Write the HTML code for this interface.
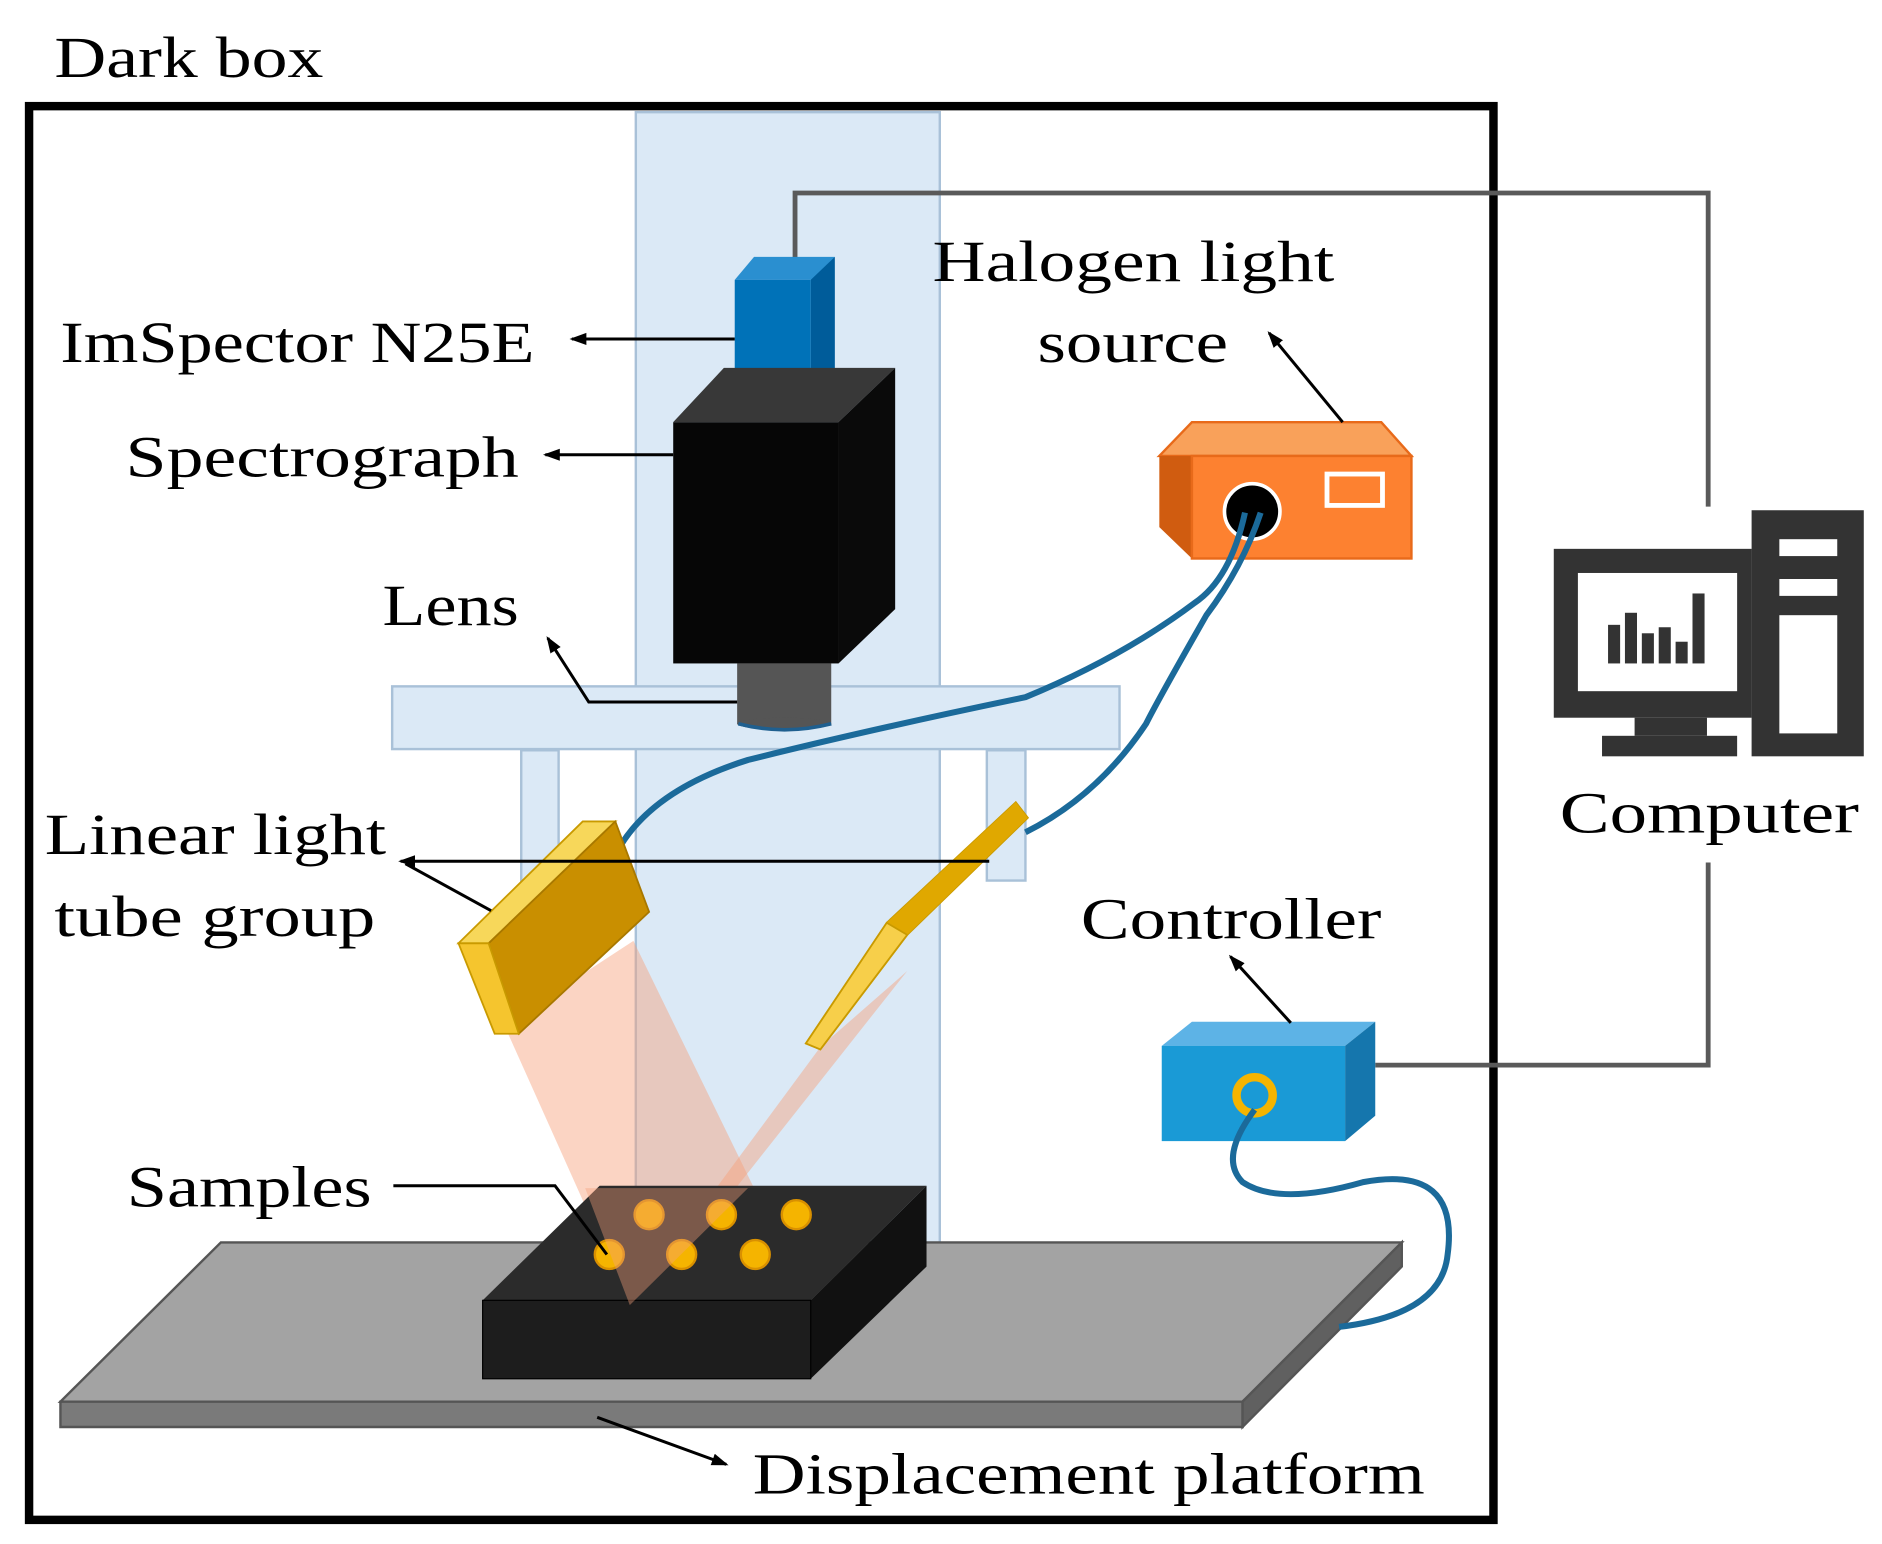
<!DOCTYPE html>
<html><head><meta charset="utf-8"><style>
html,body{margin:0;padding:0;background:#fff;}
svg{display:block;}
text{font-family:"Liberation Serif",serif;font-size:48px;fill:#000;}
</style></head><body>
<svg width="1882" height="1544" viewBox="0 0 1560 1280" xmlns="http://www.w3.org/2000/svg">
<defs>
<marker id="ar" markerWidth="14" markerHeight="12" refX="12" refY="6" orient="auto" markerUnits="userSpaceOnUse" viewBox="0 0 14 12">
<path d="M0,1 L14,6 L0,11 Z" fill="#000"/></marker>
</defs>
<rect width="1560" height="1280" fill="#fff"/>
<text x="45" y="64" font-size="44" textLength="223" lengthAdjust="spacingAndGlyphs">Dark box</text>
<!-- column -->
<rect x="527" y="93" width="252" height="940" fill="#dbe9f6" stroke="#a9c1d8" stroke-width="2"/>
<!-- shelf legs -->
<rect x="432" y="622" width="31" height="108" fill="#dbe9f6" stroke="#a9c1d8" stroke-width="2"/>
<rect x="818" y="622" width="32" height="108" fill="#dbe9f6" stroke="#a9c1d8" stroke-width="2"/>
<rect x="325" y="569" width="603" height="52" fill="#dbe9f6" stroke="#a9c1d8" stroke-width="2"/>
<!-- dark box -->
<rect x="24" y="88" width="1214" height="1172" fill="none" stroke="#000" stroke-width="7"/>
<!-- computer cable -->
<polyline points="659,215 659,160 1416,160 1416,420" fill="none" stroke="#5a5a5a" stroke-width="4"/>
<polyline points="1416,715 1416,883 1140,883" fill="none" stroke="#5a5a5a" stroke-width="4"/>
<!-- camera -->
<polygon points="609,232 625,213 692,213 676,232" fill="#2a8fd0"/>
<polygon points="672,232 692,213 692,310 672,328" fill="#005c9a"/>
<rect x="609" y="232" width="63" height="96" fill="#0072b8"/>
<!-- spectrograph -->
<polygon points="558,350 600,305 742,305 695,350" fill="#383838"/>
<polygon points="695,350 742,305 742,505 695,550" fill="#0a0a0a"/>
<rect x="558" y="350" width="137" height="200" fill="#060606"/>
<!-- lens -->
<rect x="611" y="550" width="78" height="50" fill="#555"/>
<ellipse cx="650" cy="600" rx="39" ry="5" fill="#555"/>
<path d="M612,600 Q650,610 689,600" stroke="#1f5f8f" stroke-width="3" fill="none"/>
<!-- arrows left -->
<line x1="609" y1="281" x2="474" y2="281" stroke="#000" stroke-width="2.5" marker-end="url(#ar)"/>
<line x1="558" y1="377" x2="452" y2="377" stroke="#000" stroke-width="2.5" marker-end="url(#ar)"/>
<polyline points="611,582 488,582 454,529" fill="none" stroke="#000" stroke-width="2.5" marker-end="url(#ar)"/>
<text x="50" y="300" textLength="393" lengthAdjust="spacingAndGlyphs">ImSpector N25E</text>
<text x="104" y="395" textLength="326" lengthAdjust="spacingAndGlyphs">Spectrograph</text>
<text x="317" y="518" textLength="113" lengthAdjust="spacingAndGlyphs">Lens</text>
<!-- beams -->
<polygon points="418,850 525,780 625,985 522,1082" fill="#f6a07a" opacity="0.45"/>
<polygon points="680,868 752,805 598,1000 522,1082" fill="#f6a07a" opacity="0.45"/>
<!-- halogen -->
<polygon points="961,378 988,350 1145,350 1170,378" fill="#f9a15a" stroke="#e86a1a" stroke-width="2"/>
<polygon points="961,378 988,378 988,463 961,437" fill="#d05c10"/>
<rect x="988" y="378" width="182" height="85" fill="#fd8130" stroke="#e86a1a" stroke-width="2"/>
<rect x="1100" y="393" width="46" height="26" fill="none" stroke="#fff" stroke-width="4"/>
<circle cx="1038" cy="424" r="23" fill="#000" stroke="#fff" stroke-width="3"/>
<text x="773" y="233" textLength="333" lengthAdjust="spacingAndGlyphs">Halogen light</text>
<text x="860" y="300" textLength="158" lengthAdjust="spacingAndGlyphs">source</text>
<line x1="1113" y1="350" x2="1052" y2="276" stroke="#000" stroke-width="2.5" marker-end="url(#ar)"/>
<!-- fibers -->
<path d="M1032,425 Q1020,480 990,500 Q930,545 850,578 Q720,605 620,630 Q540,655 512,705" fill="none" stroke="#1b6a9a" stroke-width="5"/>
<path d="M1045,425 Q1030,470 1000,510 Q960,580 950,600 Q910,660 850,690" fill="none" stroke="#1b6a9a" stroke-width="5"/>
<!-- left tube -->
<polygon points="380,782 483,681 510,681 405,782" fill="#f7d75a" stroke="#c99a00" stroke-width="1.5"/>
<polygon points="405,782 510,681 538,756 430,857" fill="#c98f00" stroke="#a87800" stroke-width="1.5"/>
<polygon points="380,782 405,782 430,857 410,857" fill="#f5c52e" stroke="#c99a00" stroke-width="1.5"/>
<!-- right tube -->
<polygon points="668,865 735,765 842,665 852,678 752,775 680,870" fill="#f5c52e" stroke="#c99a00" stroke-width="1.5"/>
<polygon points="735,765 842,665 852,678 752,775" fill="#e0a800"/>
<polygon points="668,865 735,765 752,775 680,870" fill="#f7cf4a" stroke="#c99a00" stroke-width="1.5"/>
<text x="37" y="708" textLength="283" lengthAdjust="spacingAndGlyphs">Linear light</text>
<text x="45" y="776" textLength="266" lengthAdjust="spacingAndGlyphs">tube group</text>
<line x1="820" y1="714" x2="332" y2="714" stroke="#000" stroke-width="2.5" marker-end="url(#ar)"/>
<line x1="407" y1="755" x2="336" y2="716" stroke="#000" stroke-width="2.5"/>
<!-- platform -->
<polygon points="50,1162 1030,1162 1162,1030 183,1030" fill="#a3a3a3" stroke="#555" stroke-width="2"/>
<polygon points="50,1162 1030,1162 1030,1183 50,1183" fill="#7a7a7a" stroke="#555" stroke-width="2"/>
<polygon points="1030,1162 1162,1030 1162,1050 1030,1183" fill="#606060" stroke="#555" stroke-width="2"/>
<!-- sample box -->
<polygon points="400,1078 672,1078 768,983 497,983" fill="#2b2b2b"/>
<polygon points="672,1078 768,983 768,1050 672,1143" fill="#111"/>
<rect x="400" y="1078" width="272" height="65" fill="#1d1d1d" stroke="#000"/>
<g fill="#f5b400" stroke="#d99000" stroke-width="2">
<circle cx="538" cy="1007" r="12"/><circle cx="598" cy="1007" r="12"/><circle cx="660" cy="1007" r="12"/>
<circle cx="505" cy="1040" r="12"/><circle cx="565" cy="1040" r="12"/><circle cx="626" cy="1040" r="12"/>
</g>
<polygon points="485,985 620,985 522,1082" fill="#f6a07a" opacity="0.4"/>
<text x="105" y="1000" textLength="203" lengthAdjust="spacingAndGlyphs">Samples</text>
<polyline points="326,983 460,983 503,1040" fill="none" stroke="#000" stroke-width="2.5"/>
<line x1="495" y1="1175" x2="602" y2="1214" stroke="#000" stroke-width="2.5" marker-end="url(#ar)"/>
<text x="624" y="1238" textLength="557" lengthAdjust="spacingAndGlyphs">Displacement platform</text>
<!-- controller -->
<polygon points="963,867 988,847 1140,847 1115,867" fill="#5db3e6"/>
<polygon points="1115,867 1140,847 1140,925 1115,946" fill="#1576ad"/>
<rect x="963" y="867" width="152" height="79" fill="#1a9ad6"/>
<circle cx="1040" cy="908" r="15" fill="#1a9ad6" stroke="#f5b400" stroke-width="7"/>
<path d="M1040,920 Q1010,960 1030,980 Q1060,1000 1130,980 Q1210,965 1200,1040 Q1195,1090 1110,1100" fill="none" stroke="#1b6a9a" stroke-width="5"/>
<text x="896" y="778" textLength="249" lengthAdjust="spacingAndGlyphs">Controller</text>
<line x1="1070" y1="848" x2="1020" y2="793" stroke="#000" stroke-width="2.5" marker-end="url(#ar)"/>
<!-- computer -->
<rect x="1452" y="423" width="93" height="204" fill="#333"/>
<rect x="1475" y="447" width="48" height="14" fill="#fff"/>
<rect x="1475" y="480" width="48" height="14" fill="#fff"/>
<rect x="1475" y="510" width="48" height="98" fill="#fff"/>
<rect x="1288" y="455" width="164" height="140" fill="#333"/>
<rect x="1308" y="475" width="132" height="98" fill="#fff"/>
<rect x="1355" y="595" width="60" height="15" fill="#333"/>
<rect x="1328" y="610" width="112" height="17" fill="#333"/>
<g fill="#333"><rect x="1333" y="518" width="10" height="32"/><rect x="1347" y="508" width="10" height="42"/><rect x="1361" y="525" width="10" height="25"/><rect x="1375" y="520" width="10" height="30"/><rect x="1389" y="532" width="10" height="18"/><rect x="1403" y="492" width="10" height="58"/></g>
<text x="1293" y="690" textLength="248" lengthAdjust="spacingAndGlyphs">Computer</text>
</svg>
</body></html>
